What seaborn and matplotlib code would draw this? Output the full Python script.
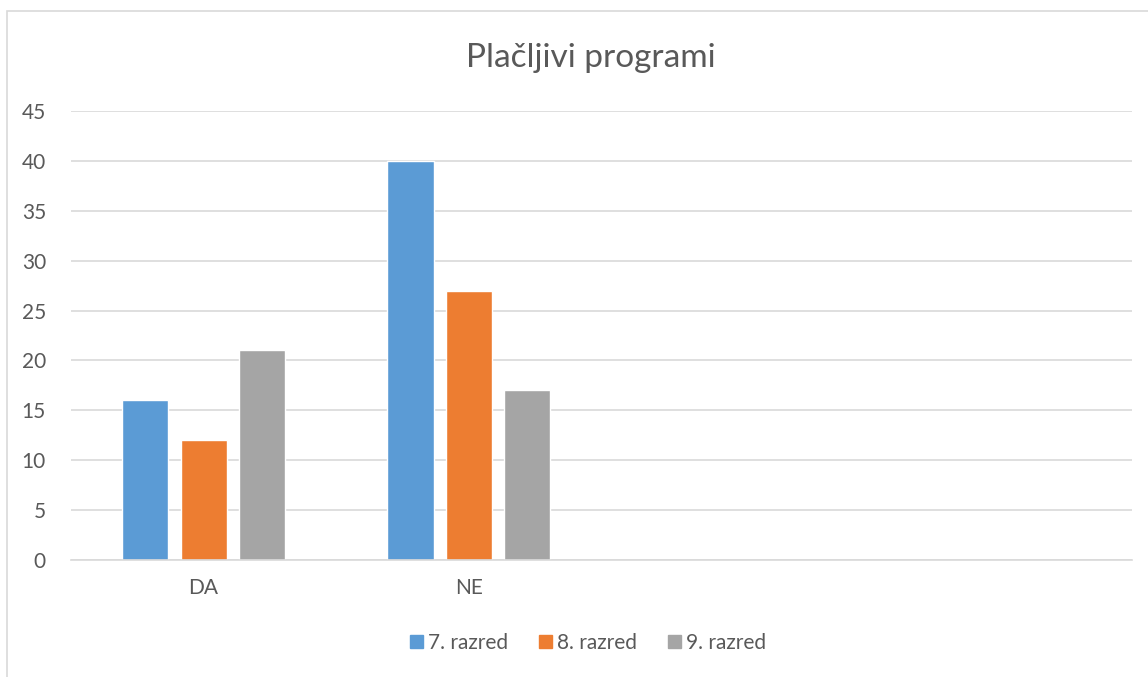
import pandas as pd
import numpy as np
import matplotlib
matplotlib.use("Agg")
import matplotlib.pyplot as plt
import seaborn as sns
from matplotlib.patches import Rectangle

# data
categories = ["DA", "NE"]
groups = ["7. razred", "8. razred", "9. razred"]
vals_7 = [16, 40]
vals_8 = [12, 27]
vals_9 = [21, 17]
colors = ["#5B9BD5", "#ED7D31", "#A5A5A5"]

df = pd.DataFrame({
    "odgovor": categories * 3,
    "razred": [groups[0]] * 2 + [groups[1]] * 2 + [groups[2]] * 2,
    "stevilo": vals_7 + vals_8 + vals_9,
})

sns.set_style("white")
plt.rcParams["font.family"] = ["Lato", "DejaVu Sans"]
txt = "#595959"
grid = "#D9D9D9"

fig = plt.figure(figsize=(11.48, 6.77), dpi=100)
ax = fig.add_axes([71 / 1148, 1 - 560 / 677, (1132 - 71) / 1148, (560 - 111) / 677])

sns.barplot(data=df, x="odgovor", y="stevilo", hue="razred", order=categories,
            hue_order=groups, palette=colors, width=0.66, gap=0.21,
            saturation=1, ax=ax, legend=False)

ax.set_xlim(-0.5, 3.5)
ax.set_ylim(0, 45)
ax.set_yticks(np.arange(0, 46, 5))
ax.yaxis.grid(True, color=grid, linewidth=1.2)
ax.set_axisbelow(True)
for s in ["top", "right", "left"]:
    ax.spines[s].set_visible(False)
ax.spines["bottom"].set_color(grid)
ax.spines["bottom"].set_linewidth(1.2)
ax.set_xlabel("")
ax.set_ylabel("")
ax.tick_params(axis="both", length=0, labelsize=15, labelcolor=txt)
ax.tick_params(axis="x", pad=13)
ax.tick_params(axis="y", pad=18)

fig.text(591 / 1148, 1 - 58 / 677, "Plačljivi programi", ha="center", va="center",
         fontsize=24, color=txt)

handles = [Rectangle((0, 0), 1, 1, color=c) for c in colors]
fig.legend(handles, groups, loc="center", bbox_to_anchor=(588 / 1148, 1 - 643 / 677),
           ncol=3, frameon=False, fontsize=15, labelcolor=txt,
           handlelength=0.6, handleheight=0.6, handletextpad=0.25, columnspacing=1.5)

# outer chart frame
fig.patches.append(Rectangle((7 / 1148, -0.01), 1.1, 1 - 11 / 677 + 0.01,
                             transform=fig.transFigure, fill=False,
                             edgecolor=grid, linewidth=1.2))

fig.savefig("out.png", dpi=100, facecolor="white")
